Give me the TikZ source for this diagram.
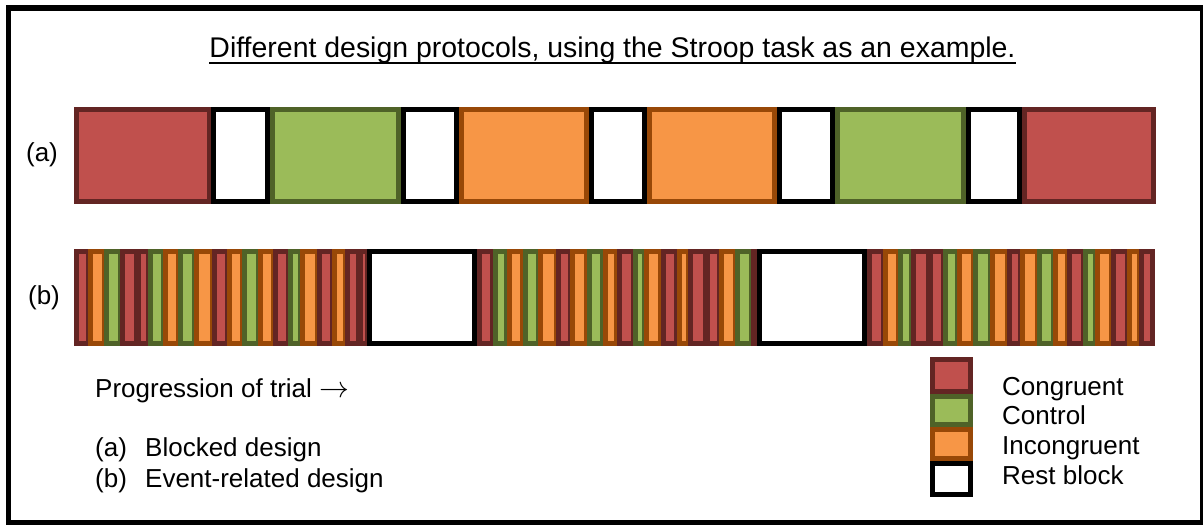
\documentclass[tikz,border=0pt]{standalone}
\usepackage{fontspec}
\setmainfont{Liberation Sans}
\definecolor{fR}{HTML}{C0504D}
\definecolor{dR}{HTML}{632523}
\definecolor{fG}{HTML}{9BBB59}
\definecolor{dG}{HTML}{4F6228}
\definecolor{fO}{HTML}{F79646}
\definecolor{dO}{HTML}{984807}
\definecolor{fW}{HTML}{FFFFFF}
\definecolor{dW}{HTML}{000000}
\tikzset{
  blk/.style={line width=5pt},
  txt/.style={inner sep=0pt, anchor=base west, font=\fontsize{26}{30}\selectfont},
}
\begin{document}
\begin{tikzpicture}[x=1pt,y=-1pt]
\useasboundingbox (0,0) rectangle (1203,526);
\fill[white] (0,0) rectangle (1203,526);
\draw[line width=5.5pt] (8.5,8) rectangle (1202.5,522.5);
% title
\node[inner sep=0pt, anchor=base, font=\fontsize{28.45}{32}\selectfont] (title) at (612.5,58)
  {Different design protocols, using the Stroop task as an example.};
\draw[line width=2.5pt] ([yshift=-5pt]title.base west) -- ([yshift=-5pt]title.base east);
% row (a)
\node[txt, anchor=center] (la) at (42,155) {(a)};
\foreach \l/\r/\c in {74/212/R, 270/401/G, 459/589/O, 647/777/O, 835/966/G, 1022/1156/R,
                      211/270/W, 401/459/W, 589/647/W, 777/835/W, 966/1022/W}
  \draw[blk, draw=d\c, fill=f\c] (\l+2.5,109.5) rectangle (\r-2.5,201.5);
% row (b)
\node[txt, anchor=center] (lb) at (44,298) {(b)};
\foreach \l/\r/\c in {
  74/88/R, 88/104/O, 104/120/G, 120/136/R, 136/148/R, 148/163/G, 163/178/O, 178/194/G,
  194/212/O, 212/227/R, 227/242/O, 242/258/G, 258/273/O, 273/288/R, 288/300/G, 300/317/O,
  317/332/R, 332/345/O, 345/358/R, 358/367/R,
  477/492.7/R, 492.7/506.7/G, 506.7/522.7/O, 522.7/538.3/G, 538.3/556/O, 556/570/R,
  570/586.7/O, 586.7/602.7/G, 602.7/616.7/O, 616.7/633.3/R, 633.3/644/G, 644/660.7/O,
  660.7/676.7/R, 676.7/688.3/O, 688.3/705/R, 705/719.3/R, 719.3/735/O, 735/751/G, 751/757/R,
  867/883/R, 883/898/O, 898/911/G, 911/928/R, 928/943/R, 943/957/G, 957/973/O, 973/990/G,
  990/1007/O, 1007/1020/R, 1020/1037/O, 1037/1053/G, 1053/1067/O, 1067/1083/R, 1083/1095/G,
  1095/1111/O, 1111/1127/R, 1127/1139/O, 1139/1152.5/R}
  \draw[blk, draw=d\c, fill=f\c] (\l+2.5,251.5) rectangle (\r,343.5);
\foreach \l/\r in {367/477, 757/867}
  \draw[blk, fill=white] (\l+2.5,251.5) rectangle (\r-2.5,343.5);
% notes
\node[txt] (prog) at (95,398) {Progression of trial \scalebox{1.2}{$\rightarrow$}};
\node[txt] (na) at (95,457) {(a)};
\node[txt] (nat) at (145,457) {Blocked design};
\node[txt] (nb) at (95,488) {(b)};
\node[txt] (nbt) at (145,488) {Event-related design};
% legend
\foreach \t/\b/\c in {357/394/R, 394/427/G, 427/461/O, 461/497/W}
  \draw[blk, draw=d\c, fill=f\c] (932.5,\t+2.5) rectangle (970.5,\b-2.5);
\node[txt] (lg1) at (1002,396) {Congruent};
\node[txt] (lg2) at (1002,425) {Control};
\node[txt] (lg3) at (1002,455) {Incongruent};
\node[txt] (lg4) at (1002,485) {Rest block};
\end{tikzpicture}
\end{document}
